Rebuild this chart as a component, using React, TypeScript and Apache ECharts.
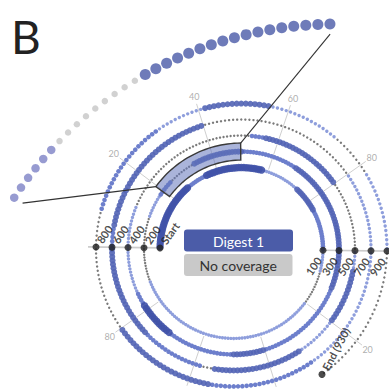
import React, { useEffect, useRef } from "react";
import * as echarts from "echarts";

// ---------------- data ----------------
const panelLetter = "B";
const legendLabels = ["Digest 1", "No coverage"];
const totalResidues = 930;
const markerResidues = [0, 100, 200, 300, 400, 500, 600, 700, 800, 900, 930];
const markerLabels = ["Start", "100", "200", "300", "400", "500", "600", "700", "800", "900", "End (930)"];
const spokeTicks = [20, 40, 60, 80];
const zoomFrom = 218; // first residue of magnified inset
const zoomTo = 250; // exclusive
const boxFrom = 219.6;
const boxTo = 249.3;

// coverage segments: [from, to (exclusive), level]; level 0 = no coverage
const cov0 = [[0, 27, 4], [27, 35, 2], [35, 58, 4], [58, 73, 1], [73, 84, 3], [84, 100, 2]];
const cov1 = [[100, 108, 1], [108, 120, 0], [120, 188, 1], [188, 200, 0]];
const cov2 = [[200, 210, 0], [210, 218, 1], [218, 224, 2], [224, 233, 0], [233, 250, 3], [250, 268, 2], [268, 300, 3]];
const cov3 = [[300, 312, 3], [312, 340, 2], [340, 350, 3], [350, 370, 2], [370, 382, 4], [382, 386, 2], [386, 400, 1]];
const cov4 = [[400, 412, 1], [412, 452, 0], [452, 456, 2], [456, 480, 3], [480, 500, 0]];
const cov5 = [[500, 505, 1], [505, 520, 3], [520, 531, 1], [531, 555, 3], [555, 558, 0], [558, 575, 2], [575, 600, 3]];
const cov6 = [[600, 605, 2], [605, 640, 3], [640, 680, 0], [680, 700, 1]];
const cov7 = [[700, 730, 1], [730, 755, 2], [755, 780, 3], [780, 800, 0]];
const cov8 = [[800, 808, 0], [808, 830, 2], [830, 841, 1], [841, 856, 3], [856, 872, 1], [872, 882, 0], [882, 900, 1]];
const cov9 = [[900, 930, 0]];

// ---------------- geometry / styles ----------------
const W = 389;
const H = 392;
const HALF = 100;
const CY = 249;
const TOP_CX = 241.5;
const BOT_CX = 233.5;
const R0 = 81.5;
const STEP = 8;
const PIVOT: [number, number] = [237.5, 249];
const TILT = (0.8 * Math.PI) / 180;
const INSET_C: [number, number] = [336, 409];
const INSET_R = 385;

const LEVELS = [
  { color: "#7a7a7a", size: 2.4 },
  { color: "#8e9edc", size: 3.4 },
  { color: "#6d7fcc", size: 4.6 },
  { color: "#5264b5", size: 6 },
  { color: "#4052a8", size: 7.4 },
];
const INSET_LEVELS = [
  { color: "#c6c6c6", size: 6.5 },
  { color: "#7d82c6", size: 8 },
  { color: "#7d82c6", size: 8.5 },
  { color: "#4a5aa8", size: 11 },
  { color: "#4a5aa8", size: 11.5 },
];

function tilt(x: number, y: number): [number, number] {
  const dx = x - PIVOT[0];
  const dy = y - PIVOT[1];
  return [PIVOT[0] + dx * Math.cos(TILT) - dy * Math.sin(TILT), PIVOT[1] + dx * Math.sin(TILT) + dy * Math.cos(TILT)];
}

function pos(res: number, dr = 0): [number, number] {
  const k = Math.min(Math.floor(res / HALF), 9);
  const t = res - k * HALF;
  const r = R0 + STEP * k + dr;
  const a = (t / HALF) * Math.PI;
  let x: number, y: number;
  if (k % 2 === 0) {
    x = TOP_CX - r * Math.cos(a);
    y = CY - r * Math.sin(a);
  } else {
    x = BOT_CX + r * Math.cos(a);
    y = CY + r * Math.sin(a);
  }
  return tilt(x, y);
}

function insetPos(res: number, dr = 0): [number, number] {
  const t = res - Math.floor(res / HALF) * HALF;
  const a = (t / HALF) * Math.PI;
  const r = INSET_R + dr;
  return [INSET_C[0] - r * Math.cos(a), INSET_C[1] - r * Math.sin(a)];
}

export default function App() {
  const ref = useRef<HTMLDivElement>(null);
  useEffect(() => {
    document.body.style.margin = "0";
    if (!ref.current) return;
    const chart = echarts.init(ref.current, null, { renderer: "svg" });

    const level: number[] = new Array(totalResidues).fill(0);
    [cov0, cov1, cov2, cov3, cov4, cov5, cov6, cov7, cov8, cov9].forEach((ring) =>
      ring.forEach(([a, b, l]) => {
        for (let i = a; i < b && i < totalResidues; i++) level[i] = l;
      })
    );

    const dotSeries = LEVELS.map((st, l) => ({
      type: "scatter",
      symbol: "circle",
      symbolSize: st.size,
      itemStyle: { color: st.color, opacity: l >= 3 ? 0.9 : 1 },
      data: level.map((lv, i) => (lv === l ? pos(i + 0.5) : null)).filter((p) => p),
      silent: true,
      z: 2,
    }));

    const insetRes: number[] = [];
    for (let i = zoomFrom; i < zoomTo; i++) insetRes.push(i);
    const insetSeries = INSET_LEVELS.map((st, l) => ({
      type: "scatter",
      symbolSize: st.size,
      itemStyle: { color: st.color },
      data: insetRes.filter((i) => level[i] === l).map((i) => insetPos(i + 0.5)),
      silent: true,
      z: 4,
    }));

    const spokes: any[] = [];
    const tickLabels: any[] = [];
    spokeTicks.forEach((t) => {
      spokes.push({ coords: [pos(t, 2.5), pos(800 + t, 6.5)] });
      tickLabels.push({ value: pos(800 + t, 14), name: String(t) });
      const outer = 900 + t <= totalResidues ? 900 + t : 700 + t;
      spokes.push({ coords: [pos(100 + t, 2.5), pos(outer, 7)] });
      tickLabels.push({ value: pos(outer, 14), name: String(t) });
    });

    const baseline = [
      { coords: [pos(0), pos(800, 8)] },
      { coords: [pos(100), pos(900, 5)] },
    ];

    const boxPts: [number, number][] = [];
    const N = 30;
    for (let j = 0; j <= N; j++) boxPts.push(pos(boxFrom + ((boxTo - boxFrom) * j) / N, 8.5));
    for (let j = N; j >= 0; j--) boxPts.push(pos(boxFrom + ((boxTo - boxFrom) * j) / N, -8.5));

    const connectors = [
      { coords: [pos(boxFrom, 8.5), insetPos(zoomFrom + 0.5, -10)] },
      { coords: [pos(boxTo, 8.5), insetPos(zoomTo - 0.5, -10)] },
    ];

    const markerData = markerResidues.map((r, i) => {
      const isEnd = r === totalResidues;
      const left = !isEnd && (r / HALF) % 2 === 0;
      const off = isEnd ? [3, -5] : left ? [3, -5] : [-4, 8];
      return {
        value: r === 0 ? pos(0) : r % HALF === 0 ? pos(r - 0.0001) : pos(r),
        label: {
          show: true,
          formatter: markerLabels[i],
          position: [3.5 + off[0], 3.5 + off[1]],
          align: left || isEnd ? "left" : "right",
          verticalAlign: "middle",
          rotate: isEnd ? 62 : 55,
        },
      };
    });

    const option: any = {
      animation: false,
      grid: { left: 0, top: 0, right: 0, bottom: 0 },
      xAxis: { type: "value", min: 0, max: W, show: false },
      yAxis: { type: "value", min: 0, max: H, inverse: true, show: false },
      series: [
        {
          type: "lines",
          coordinateSystem: "cartesian2d",
          data: spokes,
          lineStyle: { color: "#cfcfcf", width: 1, opacity: 1 },
          silent: true,
          z: 1,
        },
        {
          type: "lines",
          coordinateSystem: "cartesian2d",
          data: baseline,
          lineStyle: { color: "#cccccc", width: 1.6, opacity: 1 },
          silent: true,
          z: 1,
        },
        ...dotSeries,
        {
          type: "custom",
          coordinateSystem: "cartesian2d",
          data: [[0, 0]],
          silent: true,
          z: 3,
          renderItem: (_p: any, api: any) => ({
            type: "polygon",
            shape: { points: boxPts.map((p) => api.coord(p)) },
            style: { fill: "rgba(100,118,188,0.55)", stroke: "#3a3a3a", lineWidth: 1.4 },
          }),
        },
        {
          type: "lines",
          coordinateSystem: "cartesian2d",
          data: connectors,
          lineStyle: { color: "#333333", width: 1.1, opacity: 1 },
          silent: true,
          z: 4,
        },
        ...insetSeries,
        {
          type: "scatter",
          symbolSize: 7,
          itemStyle: { color: "#1f1f1f" },
          data: markerData,
          label: { fontSize: 11, fontWeight: "bold", fontFamily: "Lato", color: "#222" },
          silent: true,
          z: 5,
        },
        {
          type: "scatter",
          symbolSize: 0,
          data: tickLabels,
          label: {
            show: true,
            position: "inside",
            formatter: "{b}",
            fontSize: 9,
            fontFamily: "Lato",
            color: "#9a9a9a",
          },
          silent: true,
          z: 5,
        },
      ],
      graphic: [
        {
          type: "text",
          x: 11,
          y: 36,
          style: { text: panelLetter, fontSize: 46, fontFamily: "Lato", fill: "#222", verticalAlign: "middle" },
        },
        {
          type: "rect",
          shape: { x: 184, y: 229.5, width: 109, height: 22, r: 3 },
          style: { fill: "#4b5ca8" },
          z: 10,
        },
        {
          type: "text",
          x: 238.5,
          y: 241,
          style: { text: legendLabels[0], fontSize: 14, fontFamily: "Lato", fill: "#ffffff", align: "center", verticalAlign: "middle" },
          z: 11,
        },
        {
          type: "rect",
          shape: { x: 184, y: 254, width: 108.5, height: 22, r: 3 },
          style: { fill: "#c9c9c9" },
          z: 10,
        },
        {
          type: "text",
          x: 238.2,
          y: 265.5,
          style: { text: legendLabels[1], fontSize: 14, fontFamily: "Lato", fill: "#333333", align: "center", verticalAlign: "middle" },
          z: 11,
        },
      ],
    };
    chart.setOption(option);
    return () => chart.dispose();
  }, []);
  return <div ref={ref} style={{ width: W, height: H }} />;
}
